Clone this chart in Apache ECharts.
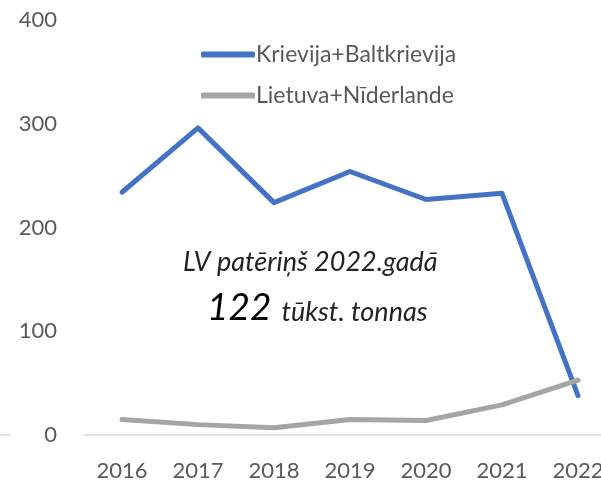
<!DOCTYPE html>
<html>
<head>
<meta charset="utf-8">
<script src="https://cdn.jsdelivr.net/npm/echarts@6/dist/echarts.min.js"></script>
<style>
  html, body { margin: 0; padding: 0; background: #fff; }
  #chart { width: 601px; height: 487px; }
</style>
</head>
<body>
<div id="chart"></div>
<script>
  const years = ['2016', '2017', '2018', '2019', '2020', '2021', '2022'];
  const krievija = [234, 296, 224, 254, 227, 233, 38];
  const lietuva = [15, 10, 7, 15, 14, 29, 53];
  const yTicks = { min: 0, max: 400, interval: 100 };

  const font = 'Lato, "Open Sans", sans-serif';
  const chart = echarts.init(document.getElementById('chart'));
  const option = {
    animation: false,
    textStyle: { fontFamily: font },
    grid: {
      top: 20,
      left: 84,
      width: 532,
      bottom: 52,
      containLabel: false,
      outerBoundsMode: 'none'
    },
    legend: {
      orient: 'vertical',
      left: 196,
      top: 38,
      itemWidth: 54,
      itemHeight: 6,
      itemGap: 18,
      icon: 'roundRect',
      textStyle: { color: '#595959', fontSize: 23, fontFamily: font, padding: [0, 0, 0, -4] },
      data: ['Krievija+Baltkrievija', 'Lietuva+Nīderlande']
    },
    xAxis: {
      type: 'category',
      data: years,
      boundaryGap: true,
      axisTick: { show: false },
      axisLine: { lineStyle: { color: '#D9D9D9', width: 1.5 } },
      axisLabel: { color: '#595959', fontSize: 22, margin: 25, fontFamily: font }
    },
    yAxis: {
      type: 'value',
      min: yTicks.min,
      max: yTicks.max,
      interval: yTicks.interval,
      splitLine: { show: false },
      axisLine: { show: false },
      axisTick: { show: false },
      axisLabel: { color: '#595959', fontSize: 22, margin: 27, fontFamily: font }
    },
    graphic: [
      {
        type: 'line',
        shape: { x1: 0, y1: 435, x2: 10, y2: 435 },
        style: { stroke: '#D9D9D9', lineWidth: 1.5 }
      },
      {
        type: 'text',
        left: 183,
        top: 249,
        style: {
          text: 'LV patēriņš 2022.gadā',
          fontSize: 27,
          fontStyle: 'italic',
          fill: '#222',
          fontFamily: font
        }
      },
      {
        type: 'text',
        left: 207,
        top: 290,
        style: {
          text: '{big|122}{small|tūkst. tonnas}',
          rich: {
            big: { fontSize: 37, fontStyle: 'italic', fill: '#000', fontFamily: font, padding: [0, 10, 0, 0] },
            small: { fontSize: 27, fontStyle: 'italic', fill: '#222', fontFamily: font, padding: [7, 0, 0, 0] }
          }
        }
      }
    ],
    series: [
      {
        name: 'Krievija+Baltkrievija',
        type: 'line',
        data: krievija,
        symbol: 'none',
        lineStyle: { color: '#4472C4', width: 5, cap: 'round', join: 'round' },
        itemStyle: { color: '#4472C4' }
      },
      {
        name: 'Lietuva+Nīderlande',
        type: 'line',
        data: lietuva,
        symbol: 'none',
        lineStyle: { color: '#A5A5A5', width: 5, cap: 'round', join: 'round' },
        itemStyle: { color: '#A5A5A5' }
      }
    ]
  };
  chart.setOption(option);
</script>
</body>
</html>
